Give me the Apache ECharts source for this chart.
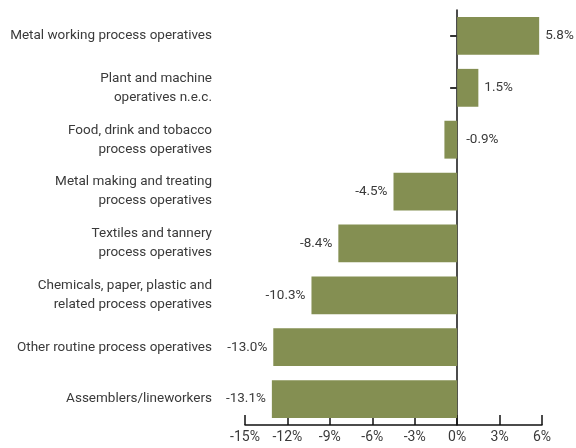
<!DOCTYPE html>
<html><head><meta charset="utf-8">
<script src="https://cdn.jsdelivr.net/npm/echarts@6/dist/echarts.min.js"></script>
<style>html,body{margin:0;padding:0;background:#fff}#c{width:576px;height:448px}</style>
</head><body><div id="c"></div>
<script>
const categories = [
  "Metal working process operatives",
  "Plant and machine\noperatives n.e.c.",
  "Food, drink and tobacco\nprocess operatives",
  "Metal making and treating\nprocess operatives",
  "Textiles and tannery\nprocess operatives",
  "Chemicals, paper, plastic and\nrelated process operatives",
  "Other routine process operatives",
  "Assemblers/lineworkers"
];
const values = [5.8, 1.5, -0.9, -4.5, -8.4, -10.3, -13.0, -13.1];
const xTicks = {min: -15, max: 6, interval: 3};

const FONT = "Roboto";
const TXT = "#3a3a3a";
const FS = 13.5;
const chart = echarts.init(document.getElementById('c'), null, {renderer: 'canvas'});
const data = values.map(v => ({
  value: v,
  label: {position: (v >= 0 || v > -2) ? 'right' : 'left', distance: v >= 0 ? 6 : (v > -2 ? 9 : 6)}
}));
chart.setOption({
  animation: false,
  grid: {left: 245, right: 34, top: 10, bottom: 23, containLabel: false},
  xAxis: {
    type: 'value', min: xTicks.min, max: xTicks.max, interval: xTicks.interval,
    axisLine: {show: true, lineStyle: {color: '#111', width: 1.5}},
    axisTick: {show: true, inside: true, length: 10, lineStyle: {color: '#111', width: 1.5}},
    axisLabel: {formatter: '{value}%', color: TXT, fontFamily: FONT, fontSize: 14, margin: 5},
    splitLine: {show: false}
  },
  yAxis: [{
    type: 'category', data: categories, inverse: true,
    axisLine: {show: true, onZero: true, lineStyle: {color: '#111', width: 1.5}},
    axisTick: {show: true, alignWithLabel: true, length: 7, lineStyle: {color: '#333', width: 2}},
    axisLabel: {show: false}
  }, {
    type: 'category', data: categories, inverse: true, position: 'left',
    axisLine: {show: false, onZero: false},
    axisTick: {show: false},
    axisLabel: {color: TXT, fontFamily: FONT, fontSize: FS, lineHeight: 19, margin: 33, align: 'right'}
  }],
  series: [{
    type: 'bar', data: data, yAxisIndex: 0, barCategoryGap: '27%',
    itemStyle: {color: '#848f52'},
    label: {show: true, formatter: p => p.value.toFixed(1) + '%', color: TXT, fontFamily: FONT, fontSize: FS}
  }]
});
</script></body></html>
